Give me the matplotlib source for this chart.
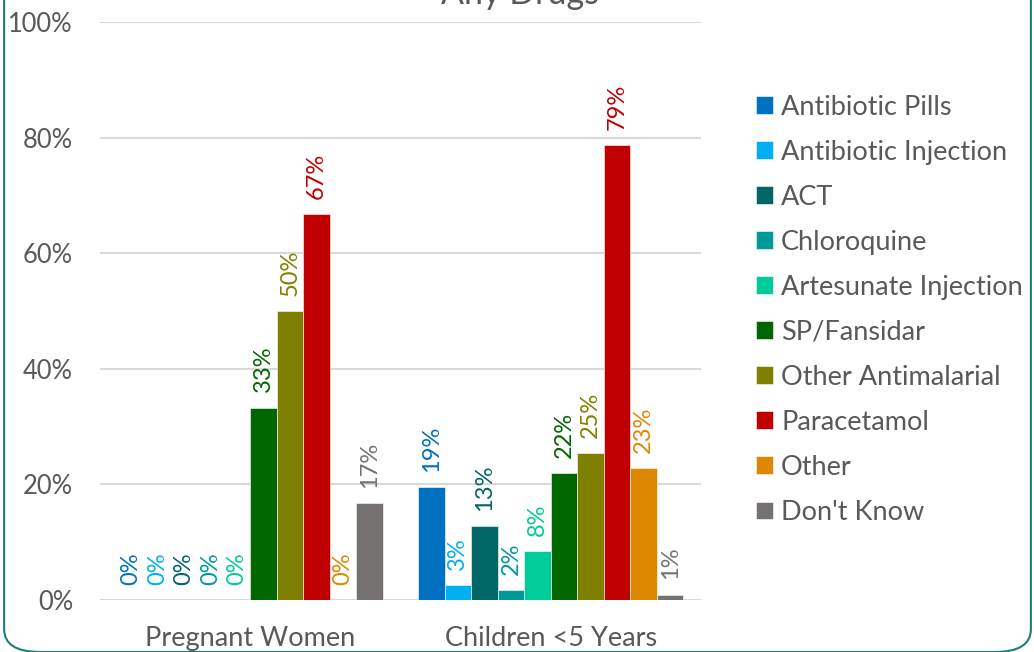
import numpy as np
import matplotlib.pyplot as plt
from matplotlib.patches import FancyBboxPatch

plt.rcParams['font.family'] = ['Lato', 'DejaVu Sans']

# Data
groups = ["Pregnant Women", "Children <5 Years"]
series = ["Antibiotic Pills", "Antibiotic Injection", "ACT", "Chloroquine",
          "Artesunate Injection", "SP/Fansidar", "Other Antimalarial",
          "Paracetamol", "Other", "Don't Know"]
colors = ["#0070c0", "#00b0f0", "#006666", "#009999", "#00cc99",
          "#006600", "#808000", "#c00000", "#dd8800", "#767171"]
pregnant = [0, 0, 0, 0, 0, 33.3, 50.0, 66.7, 0, 16.7]
children = [19.5, 2.6, 12.8, 1.7, 8.5, 22.0, 25.4, 78.7, 22.8, 0.9]
labels_pregnant = ["0%", "0%", "0%", "0%", "0%", "33%", "50%", "67%", "0%", "17%"]
labels_children = ["19%", "3%", "13%", "2%", "8%", "22%", "25%", "79%", "23%", "1%"]
yticks = [0, 20, 40, 60, 80, 100]

fig = plt.figure(figsize=(10.34, 6.52), dpi=100)
ax = fig.add_axes([0.0967, 0.0798, 0.5813, 0.8864])

n = len(series)
width = 0.0883
x = np.arange(len(groups))
values = np.array([pregnant, children])
texts = [labels_pregnant, labels_children]

for i in range(n):
    pos = x + (i - (n - 1) / 2) * width
    ax.bar(pos, values[:, i], width, color=colors[i], edgecolor='white',
           linewidth=0.4, label=series[i], zorder=3)
    for g in range(len(groups)):
        ax.annotate(texts[g][i], (pos[g], values[g, i]), xytext=(0, 11),
                    textcoords='offset points', rotation=90,
                    ha='center', va='bottom', color=colors[i], fontsize=17)

ax.set_xlim(-0.5, 1.5)
ax.set_ylim(0, 100)
ax.set_yticks(yticks)
ax.set_yticklabels([f"{v}%" for v in yticks])
ax.set_xticks(x)
ax.set_xticklabels(groups)
ax.tick_params(axis='x', length=0, labelsize=19.5, colors='#595959', pad=19)
ax.tick_params(axis='y', length=0, labelsize=18.4, colors='#595959', pad=19.4)
ax.grid(axis='y', color='#d9d9d9', linewidth=1.5, zorder=0)
for s in ax.spines.values():
    s.set_visible(False)

fig.text(0.503, 0.9935, "Any Drugs", ha='center', va='baseline',
         fontsize=24.5, color='#595959')

leg = ax.legend(loc='upper left', bbox_to_anchor=(0.731, 0.855),
                bbox_transform=fig.transFigure, frameon=False, fontsize=19.5,
                handlelength=0.63, handleheight=0.63, handletextpad=0.3,
                labelspacing=0.74, borderpad=0, borderaxespad=0)
for t in leg.get_texts():
    t.set_color('#595959')

border = FancyBboxPatch((0.004, 0.0), 0.993, 1.2,
                        boxstyle="round,pad=0,rounding_size=0.035",
                        transform=fig.transFigure, fill=False,
                        edgecolor='#1a7f7a', linewidth=1.5)
fig.patches.append(border)

fig.savefig("out.png", dpi=100)
